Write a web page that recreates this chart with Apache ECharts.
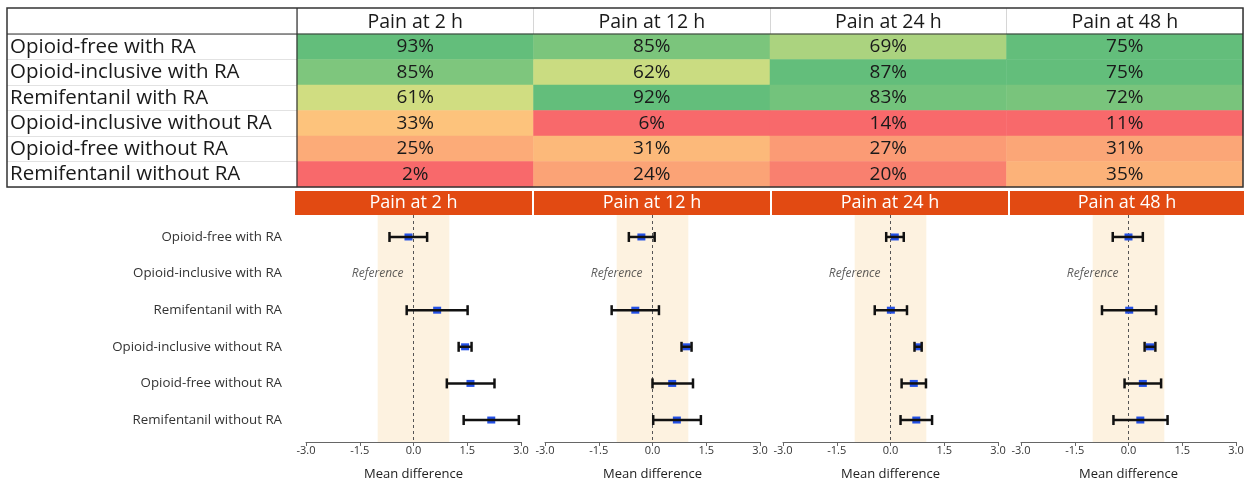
<!DOCTYPE html>
<html>
<head>
<meta charset="utf-8">
<script src="https://cdn.jsdelivr.net/npm/echarts@6/dist/echarts.min.js"></script>
<style>
  html, body { margin: 0; padding: 0; background: #fff; }
  #chart { width: 1251px; height: 483px; }
</style>
</head>
<body>
<div id="chart"></div>
<script>
// treatments (rows) and time points (columns)
var rows = ['Opioid-free with RA', 'Opioid-inclusive with RA', 'Remifentanil with RA',
            'Opioid-inclusive without RA', 'Opioid-free without RA', 'Remifentanil without RA'];
var timepoints = ['Pain at 2 h', 'Pain at 12 h', 'Pain at 24 h', 'Pain at 48 h'];

// ranking table (%)
var rank2h  = [93, 85, 61, 33, 25, 2];
var rank12h = [85, 62, 92, 6, 31, 24];
var rank24h = [69, 87, 83, 14, 27, 20];
var rank48h = [75, 75, 72, 11, 31, 35];

// mean difference vs reference (Opioid-inclusive with RA), with CI
var md2h  = [-0.14, null, 0.66, 1.44, 1.59, 2.17];
var lo2h  = [-0.67, null, -0.19, 1.26, 0.93, 1.40];
var hi2h  = [0.38, null, 1.51, 1.62, 2.26, 2.94];
var md12h = [-0.31, null, -0.48, 0.95, 0.55, 0.68];
var lo12h = [-0.66, null, -1.14, 0.81, 0.00, 0.02];
var hi12h = [0.06, null, 0.18, 1.09, 1.13, 1.35];
var md24h = [0.12, null, 0.01, 0.77, 0.65, 0.72];
var lo24h = [-0.12, null, -0.44, 0.67, 0.31, 0.28];
var hi24h = [0.37, null, 0.46, 0.87, 0.99, 1.16];
var md48h = [0.00, null, 0.02, 0.60, 0.40, 0.33];
var lo48h = [-0.44, null, -0.74, 0.45, -0.11, -0.42];
var hi48h = [0.40, null, 0.77, 0.75, 0.91, 1.09];

var xTicks = [-3, 3, 1.5]; // min, max, interval
var refRow = 1;

var FONT = '"Open Sans", Lato, sans-serif';
var rankCols = [rank2h, rank12h, rank24h, rank48h];
var mdCols = [md2h, md12h, md24h, md48h];
var loCols = [lo2h, lo12h, lo24h, lo48h];
var hiCols = [hi2h, hi12h, hi24h, hi48h];

// excel style red-yellow-green scale, midpoint = median of the column
function median(a) {
  var s = a.slice().sort(function (x, y) { return x - y; });
  var n = s.length;
  return n % 2 ? s[(n - 1) / 2] : (s[n / 2 - 1] + s[n / 2]) / 2;
}
function mix(c1, c2, t) {
  var r = Math.round(c1[0] + (c2[0] - c1[0]) * t);
  var g = Math.round(c1[1] + (c2[1] - c1[1]) * t);
  var b = Math.round(c1[2] + (c2[2] - c1[2]) * t);
  return 'rgb(' + r + ',' + g + ',' + b + ')';
}
function cellColor(v, arr) {
  var red = [248, 105, 107], yel = [255, 235, 132], grn = [99, 190, 123];
  var mn = Math.min.apply(null, arr), mx = Math.max.apply(null, arr), md = median(arr);
  if (v <= md) return mix(red, yel, (v - mn) / (md - mn));
  return mix(yel, grn, (v - md) / (mx - md));
}

var heatData = [];
rankCols.forEach(function (col, c) {
  col.forEach(function (v, r) {
    heatData.push({ value: [c, r, v], itemStyle: { color: cellColor(v, col) } });
  });
});

var grids = [
  { left: 7, width: 290, top: 34, height: 153 },   // row labels of table
  { left: 297, width: 946, top: 34, height: 153 }  // heat cells
];
var xAxes = [
  { gridIndex: 0, type: 'value', show: false },
  { gridIndex: 1, type: 'category', position: 'top', data: timepoints,
    axisLine: { show: false },
    axisTick: { show: true, length: 26, lineStyle: { color: '#d6d6d6' } },
    axisLabel: { interval: 0, fontFamily: FONT, fontSize: 19.5, color: '#1a1a1a', margin: 2 } }
];
var yAxes = [
  { gridIndex: 0, type: 'category', inverse: true, data: rows,
    axisLine: { show: false }, axisTick: { show: false },
    splitLine: { show: true, interval: 0, lineStyle: { color: '#e2e2e2' } },
    axisLabel: { interval: 0, inside: true, margin: 3, fontFamily: FONT, fontSize: 20.5, color: '#1a1a1a' } },
  { gridIndex: 1, type: 'category', inverse: true, data: rows, show: false }
];
var series = [
  { type: 'heatmap', xAxisIndex: 1, yAxisIndex: 1, data: heatData,
    label: { show: true, fontFamily: FONT, fontSize: 19, color: '#1a1a1a',
             formatter: function (p) { return p.value[2] + '%'; } } }
];

var panelLeft = [306, 545, 783, 1021];
var graphics = [];

timepoints.forEach(function (tp, i) {
  var g = grids.length;
  grids.push({ left: panelLeft[i], width: 215, top: 215, height: 227 });
  xAxes.push({
    gridIndex: g, type: 'value', min: xTicks[0], max: xTicks[1], interval: xTicks[2],
    position: 'bottom',
    name: 'Mean difference', nameLocation: 'middle', nameGap: 26,
    nameTextStyle: { fontFamily: FONT, fontSize: 13, color: '#222' },
    axisLine: { show: true, onZero: false, lineStyle: { color: '#666' } },
    axisTick: { show: true, length: 4, lineStyle: { color: '#666' } },
    axisLabel: { fontFamily: FONT, fontSize: 11, color: '#333', margin: 3,
                 formatter: function (v) { return v.toFixed(1); } },
    splitLine: { show: false }
  });
  var ya = { gridIndex: g, type: 'value', inverse: true, min: -0.6, max: 5.6,
             axisLine: { show: false }, splitLine: { show: false } };
  if (i === 0) {
    ya.offset = 12;
    ya.axisTick = { show: true, length: 3, customValues: [0, 1, 2, 3, 4, 5], lineStyle: { color: '#bbb' } };
    ya.axisLabel = { show: true, customValues: [0, 1, 2, 3, 4, 5], margin: 12,
                     fontFamily: FONT, fontSize: 13.3, color: '#333',
                     formatter: function (v) { return rows[Math.round(v)]; } };
  } else {
    ya.axisTick = { show: false };
    ya.axisLabel = { show: false };
  }
  yAxes.push(ya);

  var bars = [];
  mdCols[i].forEach(function (m, r) {
    if (m !== null) bars.push([m, loCols[i][r], hiCols[i][r], r]);
  });

  series.push({
    type: 'scatter', xAxisIndex: g, yAxisIndex: g, z: 1, silent: true,
    symbolSize: 1, itemStyle: { color: 'rgba(0,0,0,0)' },
    data: [[-1, refRow]],
    label: { show: true, position: 'inside', formatter: 'Reference',
             fontFamily: FONT, fontSize: 12, fontStyle: 'italic', color: '#333' },
    markArea: { silent: true, itemStyle: { color: '#fdf2e0' },
                data: [[{ xAxis: -1 }, { xAxis: 1 }]] },
    markLine: { silent: true, symbol: 'none', label: { show: false },
                lineStyle: { color: '#555', type: [3, 3], width: 1 },
                data: [{ xAxis: 0 }] }
  });
  series.push({
    type: 'custom', xAxisIndex: g, yAxisIndex: g, z: 5, silent: true,
    data: bars,
    renderItem: function (params, api) {
      var y = api.value(3);
      var m = api.coord([api.value(0), y]);
      var a = api.coord([api.value(1), y]);
      var b = api.coord([api.value(2), y]);
      var st = { stroke: '#111', lineWidth: 2.5 };
      return { type: 'group', children: [
        { type: 'rect', shape: { x: m[0] - 4, y: m[1] - 3.5, width: 8, height: 7 },
          style: { fill: '#2350e6' } },
        { type: 'line', shape: { x1: a[0], y1: a[1], x2: b[0], y2: b[1] }, style: st },
        { type: 'line', shape: { x1: a[0], y1: a[1] - 5, x2: a[0], y2: a[1] + 5 }, style: st },
        { type: 'line', shape: { x1: b[0], y1: b[1] - 5, x2: b[0], y2: b[1] + 5 }, style: st }
      ] };
    }
  });
});

// orange panel headers
var headX = [295, 534, 772, 1010];
var headW = [237, 236, 236, 234];
timepoints.forEach(function (tp, i) {
  graphics.push({ type: 'rect', shape: { x: headX[i], y: 191, width: headW[i], height: 24 },
                  style: { fill: '#e24a12' } });
  graphics.push({ type: 'text', x: headX[i] + headW[i] / 2, y: 203,
                  style: { text: tp, fill: '#fff', font: '18px ' + FONT,
                           textAlign: 'center', textVerticalAlign: 'middle' } });
});
// table frame
graphics.push({ type: 'rect', z: 100, shape: { x: 7, y: 8, width: 1236, height: 179 },
                style: { fill: null, stroke: '#333', lineWidth: 1.5 } });
graphics.push({ type: 'line', z: 100, shape: { x1: 297, y1: 8, x2: 297, y2: 187 },
                style: { stroke: '#333', lineWidth: 1.2 } });
graphics.push({ type: 'line', z: 100, shape: { x1: 7, y1: 34, x2: 1243, y2: 34 },
                style: { stroke: '#333', lineWidth: 1.2 } });

var chart = echarts.init(document.getElementById('chart'));
chart.setOption({
  animation: false,
  textStyle: { fontFamily: FONT },
  grid: grids,
  xAxis: xAxes,
  yAxis: yAxes,
  series: series,
  graphic: graphics
});
</script>
</body>
</html>
